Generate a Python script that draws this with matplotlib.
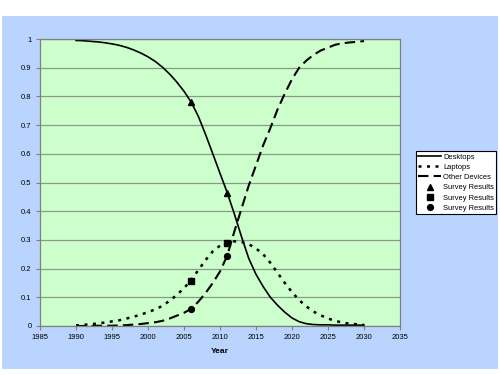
import matplotlib
matplotlib.use("Agg")
import matplotlib.pyplot as plt
from matplotlib.patches import Rectangle

years = list(range(1990, 2031))
desktops = [0.995, 0.994, 0.992, 0.990, 0.987, 0.983, 0.978, 0.971, 0.962, 0.951,
            0.938, 0.922, 0.902, 0.878, 0.850, 0.818, 0.780, 0.730, 0.667, 0.600,
            0.532, 0.465, 0.390, 0.310, 0.235, 0.180, 0.137, 0.100, 0.072, 0.048,
            0.028, 0.015, 0.008, 0.005, 0.004, 0.004, 0.003, 0.003, 0.003, 0.003, 0.003]
laptops = [0.002, 0.004, 0.006, 0.009, 0.012, 0.016, 0.020, 0.026, 0.032, 0.040,
           0.048, 0.058, 0.070, 0.088, 0.108, 0.132, 0.160, 0.195, 0.230, 0.260,
           0.280, 0.290, 0.295, 0.293, 0.285, 0.270, 0.250, 0.220, 0.185, 0.150,
           0.118, 0.090, 0.068, 0.050, 0.037, 0.026, 0.018, 0.012, 0.008, 0.006, 0.004]
other = [0.000, 0.000, 0.000, 0.001, 0.001, 0.001, 0.002, 0.003, 0.005, 0.007,
         0.010, 0.013, 0.018, 0.026, 0.036, 0.046, 0.060, 0.085, 0.115, 0.150,
         0.190, 0.245, 0.330, 0.410, 0.490, 0.560, 0.630, 0.690, 0.755, 0.810,
         0.860, 0.900, 0.925, 0.945, 0.960, 0.970, 0.980, 0.985, 0.988, 0.990, 0.993]

survey_years = [2006, 2011]
survey_desktops = [0.78, 0.465]
survey_laptops = [0.157, 0.29]
survey_other = [0.06, 0.245]

xticks = [1985, 1990, 1995, 2000, 2005, 2010, 2015, 2020, 2025, 2030, 2035]
yticks = [0, 0.1, 0.2, 0.3, 0.4, 0.5, 0.6, 0.7, 0.8, 0.9, 1]
ytick_labels = ["0", "0.1", "0.2", "0.3", "0.4", "0.5", "0.6", "0.7", "0.8", "0.9", "1"]

plt.rcParams['font.family'] = ['Liberation Sans', 'DejaVu Sans']

fig = plt.figure(figsize=(5, 3.75), dpi=100)
fig.patch.set_facecolor('white')
bg = Rectangle((2/500, 1 - 369/375), 496/500, (369-16)/375,
               transform=fig.transFigure, facecolor='#B9D5FF',
               edgecolor='none', zorder=-10)
fig.add_artist(bg)

ax = fig.add_axes([40/500, 1 - 326/375, 360/500, 287/375])
ax.set_zorder(1)
ax.set_facecolor('#CCFFCC')

ax.plot(years, desktops, color='black', lw=1.2, ls='-', label='Desktops')
ax.plot(years, laptops, color='black', lw=1.8, ls=(0, (1.2, 2.2)), label='Laptops')
ax.plot(years, other, color='black', lw=1.5, ls=(0, (5, 2.5)), label='Other Devices')
ax.plot(survey_years, survey_desktops, ls='none', marker='^', ms=4.5, color='black', label='Survey Results')
ax.plot(survey_years, survey_laptops, ls='none', marker='s', ms=3.8, color='black', label='Survey Results')
ax.plot(survey_years, survey_other, ls='none', marker='o', ms=4.2, color='black', label='Survey Results')

ax.set_xlim(1985, 2035)
ax.set_ylim(0, 1)
ax.set_xticks(xticks)
ax.set_xticklabels([str(t) for t in xticks])
ax.set_yticks(yticks)
ax.set_yticklabels(ytick_labels)
ax.tick_params(axis='both', labelsize=5.5, length=3, width=0.8, color='#808080', pad=3)
ax.grid(axis='y', color='#8A9A8A', lw=0.9)
ax.set_axisbelow(True)
for s in ax.spines.values():
    s.set_color('#808080')
    s.set_linewidth(0.9)
ax.set_xlabel('Year', fontsize=6, fontweight='bold', labelpad=5)

handles, labels = ax.get_legend_handles_labels()
leg = fig.legend(handles, labels, loc='upper left',
                 bbox_to_anchor=(416/500, 1 - 151/375), fontsize=5.4,
                 frameon=True, fancybox=False, edgecolor='black', facecolor='white',
                 framealpha=1, handlelength=3.0, handletextpad=0.3,
                 borderpad=0.3, labelspacing=0.4, borderaxespad=0)
leg.get_frame().set_linewidth(0.8)
leg.set_zorder(5)

fig.savefig('out.png', dpi=100)
